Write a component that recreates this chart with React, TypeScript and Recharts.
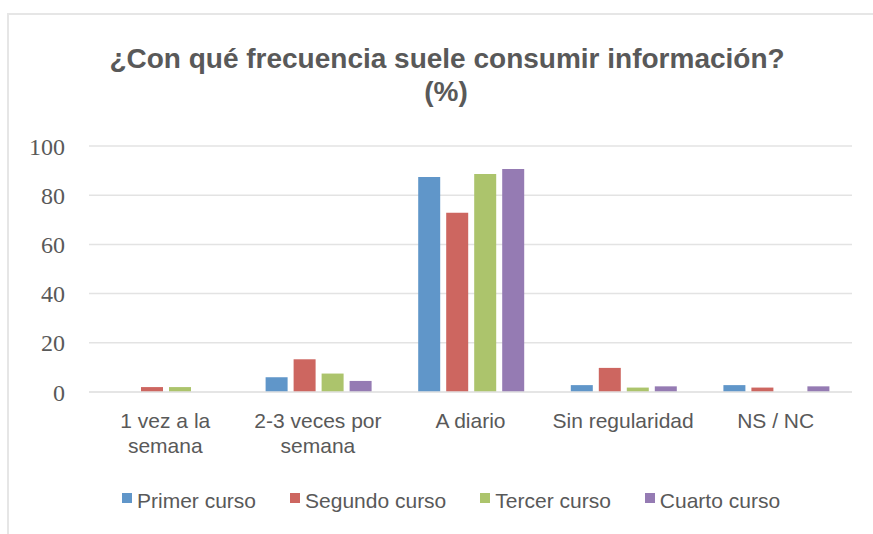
import React from "react";
import { BarChart, Bar, XAxis, YAxis, CartesianGrid } from "recharts";

const categories = ["1 vez a la semana", "2-3 veces por semana", "A diario", "Sin regularidad", "NS / NC"];
const tickLines = [["1 vez a la", "semana"], ["2-3 veces por", "semana"], ["A diario"], ["Sin regularidad"], ["NS / NC"]];
const seriesNames = ["Primer curso", "Segundo curso", "Tercer curso", "Cuarto curso"];
const seriesColors = ["#6096C9", "#CD6660", "#ACC46C", "#957BB3"];
const primer = [0, 6, 87.4, 2.8, 2.8];
const segundo = [2, 13.3, 72.9, 9.8, 1.8];
const tercer = [2, 7.5, 88.6, 1.8, 0];
const cuarto = [0, 4.5, 90.7, 2.3, 2.3];
const yTicks = [0, 20, 40, 60, 80, 100];
const titleLines = ["¿Con qué frecuencia suele consumir información?", "(%)"];

const seriesValues = [primer, segundo, tercer, cuarto];
const data = categories.map((c, i) => {
  const row: any = { name: c, idx: i };
  seriesNames.forEach((s, k) => (row[s] = seriesValues[k][i]));
  return row;
});

const TEXT = "#595959";
const SANS = "'Liberation Sans', Arial, sans-serif";

const XTick = (props: any) => {
  const { x, y, index } = props;
  const lines = tickLines[index] || [];
  return (
    <g>
      {lines.map((l, i) => (
        <text key={i} x={x} y={y + 36 + i * 25} textAnchor="middle" fill={TEXT} fontSize={21} fontFamily={SANS}>
          {l}
        </text>
      ))}
    </g>
  );
};

export default function App() {
  return (
    <div style={{ position: "absolute", left: 0, top: 0, width: 873, height: 534, background: "#fff", overflow: "hidden" }}>
      <div style={{ position: "absolute", left: 7, top: 13, width: 880, height: 540, borderTop: "2px solid #e6e6e6", borderLeft: "2px solid #e6e6e6" }} />
      <svg style={{ position: "absolute", left: 0, top: 0 }} width={873} height={120}>
        <text x={447} y={68} textAnchor="middle" fill={TEXT} fontSize={28} fontWeight="bold" fontFamily={SANS}>
          {titleLines[0]}
        </text>
        <text x={446} y={101} textAnchor="middle" fill={TEXT} fontSize={28} fontWeight="bold" fontFamily={SANS}>
          {titleLines[1]}
        </text>
      </svg>
      <div style={{ position: "absolute", left: 0, top: 0 }}>
        <BarChart
          width={873}
          height={534}
          data={data}
          margin={{ top: 146, right: 21, left: 0, bottom: 82 }}
          barCategoryGap={24}
          barGap={6}
        >
          <CartesianGrid vertical={false} stroke="#e3e3e3" strokeWidth={1.5} />
          <XAxis
            dataKey="name"
            height={60}
            tickLine={false}
            tickSize={0}
            tickMargin={0}
            axisLine={{ stroke: "#e3e3e3", strokeWidth: 1.5 }}
            tick={<XTick />}
            interval={0}
          />
          <YAxis
            width={89}
            domain={[0, 100]}
            ticks={yTicks}
            axisLine={false}
            tickLine={false}
            tickSize={0}
            tickMargin={24}
            tick={{ fill: TEXT, fontSize: 24, fontFamily: "'Liberation Serif', 'Times New Roman', serif" }}
          />
          {seriesNames.map((s, k) => (
            <Bar key={s} dataKey={s} fill={seriesColors[k]} isAnimationActive={false} />
          ))}
        </BarChart>
      </div>
      <div style={{ position: "absolute", left: 122, top: 489, display: "flex", gap: 34, fontFamily: SANS, fontSize: 21, lineHeight: "24px", color: TEXT, whiteSpace: "nowrap" }}>
        {seriesNames.map((s, k) => (
          <div key={s} style={{ display: "flex", alignItems: "flex-start" }}>
            <div style={{ width: 10, height: 10, marginTop: 4, marginRight: 5, background: seriesColors[k] }} />
            <span>{s}</span>
          </div>
        ))}
      </div>
    </div>
  );
}
